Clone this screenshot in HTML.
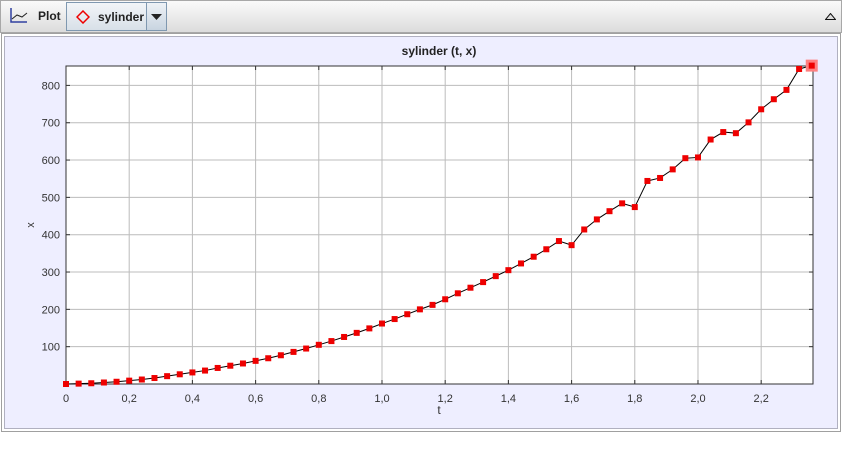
<!DOCTYPE html>
<html><head><meta charset="utf-8"><style>
body{margin:0;width:842px;height:465px;background:#fff;overflow:hidden;font-family:"Liberation Sans",sans-serif}
#toolbar{position:absolute;left:0;top:0;width:840px;height:31px;border:1px solid #a8a8a8;background:linear-gradient(#fafafa,#dcdcdc)}
#panel{position:absolute;left:1px;top:33px;width:838px;height:397px;border:1px solid #a0a0a0;background:#fff}
#inner{position:absolute;left:2px;top:2px;width:832px;height:391px;border:1px solid #b0b0c0;background:#eeeeff}
</style></head><body>
<div id="toolbar">
 <svg style="position:absolute;left:8px;top:6px" width="20" height="18"><path d="M2 1V15H18" stroke="#3040a0" fill="none" stroke-width="1.5"/><path d="M3 12L8 8L13 10L18 6" stroke="#222" fill="none"/></svg>
 <span style="position:absolute;left:37px;top:8px;font-size:12px;font-weight:bold;color:#222">Plot</span>
 <div style="position:absolute;left:65px;top:1px;width:80px;height:27px;border:1px solid #7f98b0;background:linear-gradient(#f2f5f8,#d8e0e8)">
  <svg style="position:absolute;left:9px;top:7px" width="14" height="14"><path d="M7 1L13 7L7 13L1 7Z" stroke="#e00" stroke-width="1.5" fill="none"/></svg>
  <span style="position:absolute;left:31px;top:7px;font-size:12px;font-weight:bold;color:#222">sylinder</span>
 </div>
 <div style="position:absolute;left:145px;top:1px;width:19px;height:27px;border:1px solid #7f98b0;background:linear-gradient(#eef2f6,#c8d4e0)">
  <svg style="position:absolute;left:4px;top:11px" width="11" height="7"><path d="M0 0H11L5.5 6Z" fill="#222"/></svg>
 </div>
 <svg style="position:absolute;left:824px;top:12px" width="11" height="7"><path d="M0.5 6.5H10.5L5.5 0.5Z" fill="#ddd" stroke="#111"/></svg>
</div>
<div id="panel"><div id="inner"></div></div>
<svg id="chart" width="842" height="465" style="position:absolute;left:0;top:0"></svg>
<script>
const tValues=[0,0.04,0.08,0.12,0.16,0.20,0.24,0.28,0.32,0.36,0.40,0.44,0.48,0.52,0.56,0.60,0.64,0.68,0.72,0.76,0.80,0.84,0.88,0.92,0.96,1.00,1.04,1.08,1.12,1.16,1.20,1.24,1.28,1.32,1.36,1.40,1.44,1.48,1.52,1.56,1.60,1.64,1.68,1.72,1.76,1.80,1.84,1.88,1.92,1.96,2.00,2.04,2.08,2.12,2.16,2.20,2.24,2.28,2.32,2.36];
const xValues=[0,1,2,4,6,9,12,16,21,26,31,36,43,49,55,62,69,77,86,95,105,115,126,137,149,162,174,187,200,212,227,243,258,273,289,305,323,341,361,383,372,414,441,463,484,474,544,552,575,605,607,655,675,672,701,736,763,788,844,853];
const xTicks=[0,0.2,0.4,0.6,0.8,1.0,1.2,1.4,1.6,1.8,2.0,2.2];
const xTickLabels=["0","0,2","0,4","0,6","0,8","1,0","1,2","1,4","1,6","1,8","2,0","2,2"];
const yTicks=[100,200,300,400,500,600,700,800];
const L=66,R=813,T=66,B=384,tMax=2.364,vMax=852;
const sx=t=>L+t/tMax*(R-L), sy=v=>B-v/vMax*(B-T);
const svg=document.getElementById('chart');const NS='http://www.w3.org/2000/svg';
function mk(tag,a,p){const e=document.createElementNS(NS,tag);for(const k in a)e.setAttribute(k,a[k]);(p||svg).appendChild(e);return e;}
const bg=mk('rect',{x:L,y:T,width:R-L,height:B-T,fill:'#fff'});


xTicks.forEach((t,i)=>{const x=sx(t);
 const g=mk('line',{x1:x,x2:x,y1:T,y2:B,stroke:'#bcbcbc'});
 
 
 mk('line',{x1:x,x2:x,y1:T,y2:T+4,stroke:'#333'});mk('line',{x1:x,x2:x,y1:B,y2:B-4,stroke:'#333'});
 const tx=mk('text',{x:x,y:402,'text-anchor':'middle','font-size':11,fill:'#333'});tx.textContent=xTickLabels[i];
 
 
});
yTicks.forEach(v=>{const y=sy(v);
 const g=mk('line',{x1:L,x2:R,y1:y,y2:y,stroke:'#bcbcbc'});
 
 
 mk('line',{x1:L,x2:L+4,y1:y,y2:y,stroke:'#333'});mk('line',{x1:R,x2:R-4,y1:y,y2:y,stroke:'#333'});
 const tx=mk('text',{x:60,y:y+4,'text-anchor':'end','font-size':11,fill:'#333'});tx.textContent=v;
 
 
});
mk('rect',{x:L,y:T,width:R-L,height:B-T,fill:'none',stroke:'#333'});
const title=mk('text',{x:439,y:55,'text-anchor':'middle','font-size':12,'font-weight':'bold',fill:'#222'});title.textContent='sylinder (t, x)';


const xt=mk('text',{x:439,y:414,'text-anchor':'middle','font-size':12,fill:'#333'});xt.textContent='t';


const yt=mk('text',{x:34,y:225,'text-anchor':'middle','font-size':11,fill:'#333',transform:'rotate(-90 34 225)'});yt.textContent='x';


const line=mk('polyline',{points:tValues.map((t,i)=>sx(t)+','+sy(xValues[i])).join(' '),fill:'none',stroke:'#000','stroke-width':1});


tValues.forEach((t,i)=>{const x=sx(t),y=sy(xValues[i]);
 if(i===tValues.length-1){const h=mk('rect',{x:x-6,y:y-6,width:12,height:12,fill:'#ff8080'});}
 const p=mk('rect',{x:x-3,y:y-3,width:6,height:6,fill:'#ee0000'});
 
 
});
</script>
</body></html>
